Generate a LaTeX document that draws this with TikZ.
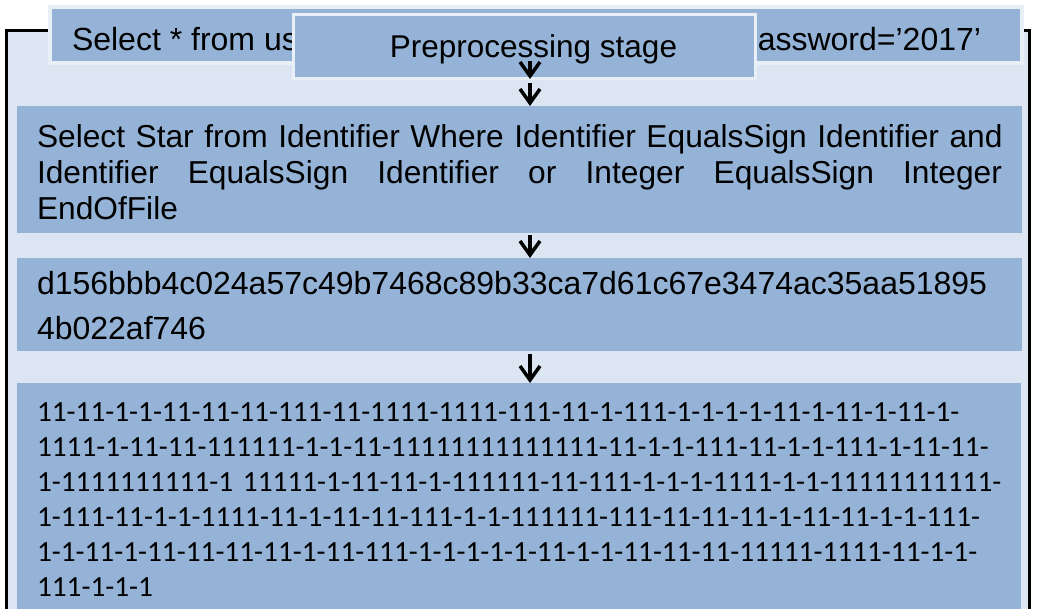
\documentclass[tikz,border=0pt]{standalone}
\usepackage{fontspec}
\setmainfont{Liberation Sans}
\newfontfamily\calibrifont{Carlito}
\usetikzlibrary{arrows.meta}
\definecolor{panelbg}{HTML}{DCE6F2}
\definecolor{boxblue}{HTML}{95B3D7}
\definecolor{halo}{HTML}{E9EFF7}
% a justified line of the given width: gaps between words widen evenly
\newcommand{\fullline}[2]{\hbox to #1{\def\gap{\hskip 0pt plus 1fil}#2}}
\begin{document}
\begin{tikzpicture}[x=1pt,y=-1pt,
  stage/.style={fill=boxblue, draw=none, inner sep=0pt, outer sep=0pt, anchor=north west},
  label/.style={inner sep=0pt, outer sep=0pt, font=\fontsize{32}{37}\selectfont},
  flow/.style={line width=3.5pt, -{Straight Barb[length=14pt,width=20pt]}}]
  \useasboundingbox (0,0) rectangle (1041,609);
  \fill[white] (0,0) rectangle (1041,609);

  % light panel and its black frame
  \fill[panelbg] (8,31) rectangle (1028,612);
  \draw[line width=3pt] (6.5,612) -- (6.5,31) -- (1029.5,31) -- (1029.5,612);

  % input query
  \node[stage, draw=halo, line width=4pt, minimum width=972pt, minimum height=56pt] (query) at (50,7) {};
  \node[label, anchor=base west] (qleft) at (72,51) {Select * from us};
  \node[label, anchor=base west] (qright) at (740,51) {password=’2017’};

  % preprocessing stage
  \node[stage, draw=halo, line width=3pt, minimum width=462pt, minimum height=64pt] (pre) at (293.5,15) {};
  \node[label, anchor=base, font=\fontsize{31.5}{36}\selectfont] (prelabel) at (533.5,58) {Preprocessing stage};

  % token stream
  \node[stage, minimum width=1005pt, minimum height=127pt] (tokens) at (17,106) {};
  \node[label, anchor=base west, text width=965pt, align=left, font=\fontsize{31.7}{36}\selectfont] (tokentext) at (37,148)
    {\fullline{965pt}{Select\gap{} Star\gap{} from\gap{} Identifier\gap{} Where\gap{} Identifier\gap{} EqualsSign\gap{} Identifier\gap{} and}
     \fullline{965pt}{Identifier\gap{} EqualsSign\gap{} Identifier\gap{} or\gap{} Integer\gap{} EqualsSign\gap{} Integer}
     EndOfFile\par};

  % hash
  \node[stage, minimum width=1005pt, minimum height=93pt] (hash) at (17,258) {};
  \node[label, anchor=base west, text width=966pt, align=left, font=\fontsize{32}{45}\selectfont] (hashtext) at (37,295)
    {d156bbb4c024a57c49b7468c89b33ca7d61c67e3474ac35aa51895\\4b022af746};

  % feature vector
  \node[stage, minimum width=1004pt, minimum height=230pt] (vector) at (17,383) {};
  \node[label, anchor=base west, text width=995pt, align=left, font=\calibrifont\fontsize{29.3}{35}\selectfont] (vectortext) at (37,421)
    {11-11-1-1-11-11-11-111-11-1111-1111-111-11-1-111-1-1-1-1-11-1-11-1-11-1-\\
     1111-1-11-11-111111-1-1-11-11111111111111-11-1-1-111-11-1-1-111-1-11-11-\\
     1-1111111111-1 11111-1-11-11-1-111111-11-111-1-1-1-1111-1-1-11111111111-\\
     1-111-11-1-1-1111-11-1-11-11-111-1-1-111111-111-11-11-11-1-11-11-1-1-111-\\
     1-1-11-1-11-11-11-11-1-11-111-1-1-1-1-1-11-1-1-11-11-11-11111-1111-11-1-1-\\
     111-1-1-1};

  % flow arrows
  \coordinate (s0) at (530,61);
  \draw[flow] (s0) -- (s0 |- pre.south);
  \draw[flow, shorten <=4pt] (s0 |- pre.south) -- (s0 |- tokens.north);
  \draw[flow, shorten <=2pt] (s0 |- tokens.south) -- (s0 |- hash.north);
  \draw[flow, shorten <=3pt] (s0 |- hash.south) -- (s0 |- vector.north);
\end{tikzpicture}
\end{document}
